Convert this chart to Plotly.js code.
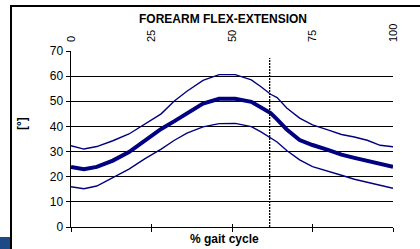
<!DOCTYPE html>
<html>
<head>
<meta charset="utf-8">
<script src="https://cdn.plot.ly/plotly-3.0.1.min.js"></script>
<style>
  html, body { margin: 0; padding: 0; background: #fff; }
  #chart { width: 420px; height: 249px; }
</style>
</head>
<body>
<div id="chart"></div>
<script>
// % gait cycle
var gaitPct = [0, 4, 8, 13, 18, 23, 28, 32, 36, 41, 46, 51, 56, 59, 62, 64, 67, 71, 75, 80, 84, 88, 92, 96, 100];
// mean + SD band (degrees)
var upperSD = [32.3, 31.0, 32.0, 34.3, 37.0, 41.0, 45.0, 50.0, 54.0, 58.3, 60.6, 60.6, 58.5, 55.8, 52.8, 51.5, 47.3, 43.3, 40.6, 38.5, 36.8, 35.8, 34.5, 32.5, 31.9];
var meanVal = [23.9, 23.0, 23.9, 26.4, 29.8, 34.5, 39.0, 42.0, 45.3, 49.1, 51.0, 51.0, 49.8, 47.7, 45.3, 42.8, 38.8, 34.6, 32.6, 30.6, 28.8, 27.5, 26.3, 25.3, 23.9];
var lowerSD = [16.0, 15.2, 16.3, 19.6, 23.0, 27.2, 31.0, 34.4, 37.3, 39.8, 41.1, 41.2, 39.9, 37.8, 35.3, 33.8, 30.4, 26.7, 24.0, 22.2, 20.6, 19.0, 17.7, 16.4, 15.4];
// toe-off marker
var toeOffPct = 61.7;
var toeOffTop = 67.2;
var xTicks = [0, 25, 50, 75, 100];
var xTickText = ['0', '25', '50', '75', '100'];
var yTicks = [0, 10, 20, 30, 40, 50, 60, 70];

var navy = '#000080';
var FONT = '"Liberation Sans", Arial, sans-serif';

var traces = [
  {x: gaitPct, y: upperSD, mode: 'lines', line: {color: navy, width: 1.4}, hoverinfo: 'skip'},
  {x: gaitPct, y: lowerSD, mode: 'lines', line: {color: navy, width: 1.4}, hoverinfo: 'skip'},
  {x: gaitPct, y: meanVal, mode: 'lines', line: {color: navy, width: 4}, hoverinfo: 'skip'},
  {x: [toeOffPct, toeOffPct], y: [0, toeOffTop], mode: 'lines', line: {color: '#000', width: 1.3, dash: '2px,1px'}, hoverinfo: 'skip'},
  // helper traces so the overlay axes are drawn
  {x: [null], y: [null], xaxis: 'x2', yaxis: 'y', mode: 'lines', hoverinfo: 'skip'},
  {x: [null], y: [null], xaxis: 'x3', yaxis: 'y', mode: 'lines', hoverinfo: 'skip'},
  {x: [null], y: [null], xaxis: 'x', yaxis: 'y2', mode: 'lines', hoverinfo: 'skip'}
];

// pixel helpers for paper coords (plot area x:71-393, y:51-227)
function px(x) { return (x - 71) / 322; }
function py(y) { return (227 - y) / 176; }

var layout = {
  width: 420, height: 249,
  margin: {l: 71, r: 27, t: 51, b: 22, pad: 0},
  paper_bgcolor: '#fff', plot_bgcolor: '#fff',
  showlegend: false,
  font: {family: FONT, color: '#000', size: 12},
  xaxis: {
    range: [0, 100], tickvals: xTicks, showticklabels: false,
    ticks: 'outside', ticklen: 4, tickwidth: 1, tickcolor: '#000',
    showline: true, linecolor: '#000', linewidth: 1,
    showgrid: false, zeroline: false, fixedrange: true
  },
  xaxis3: {
    overlaying: 'x', anchor: 'y', range: [0, 100], tickvals: xTicks, showticklabels: false,
    ticks: 'inside', ticklen: 3, tickwidth: 1, tickcolor: '#000',
    showline: false, showgrid: false, zeroline: false
  },
  xaxis2: {
    overlaying: 'x', anchor: 'y', side: 'top', range: [0, 100],
    tickvals: xTicks, ticktext: xTickText, tickangle: -90,
    ticks: '', showline: false, showgrid: false, zeroline: false,
    tickfont: {family: FONT, size: 11, color: '#000'}, ticklabelstandoff: 8
  },
  yaxis: {
    range: [0, 70], tickvals: yTicks,
    ticks: 'outside', ticklen: 4, tickwidth: 1, tickcolor: '#000',
    showline: true, linecolor: '#000', linewidth: 1.5,
    showgrid: true, gridcolor: '#000', gridwidth: 1, zeroline: false,
    tickfont: {family: FONT, size: 12, color: '#000'}, fixedrange: true
  },
  yaxis2: {
    overlaying: 'y', anchor: 'x', range: [0, 70], tickvals: yTicks, showticklabels: false,
    ticks: 'inside', ticklen: 2, tickwidth: 1, tickcolor: '#000',
    showline: false, showgrid: false, zeroline: false
  },
  annotations: [
    {text: '<b>FOREARM FLEX-EXTENSION</b>', xref: 'paper', yref: 'paper', x: px(222.5), y: py(18.7),
     xanchor: 'center', yanchor: 'middle', showarrow: false, font: {family: FONT, size: 12, color: '#000'}},
    {text: '<b>[°]</b>', xref: 'paper', yref: 'paper', x: px(22), y: py(124), textangle: -90,
     xanchor: 'center', yanchor: 'middle', showarrow: false, font: {family: FONT, size: 12, color: '#000'}},
    {text: '<b>% gait cycle</b>', xref: 'paper', yref: 'paper', x: px(224), y: py(239.3),
     xanchor: 'center', yanchor: 'middle', showarrow: false, font: {family: FONT, size: 12, color: '#000'}}
  ],
  shapes: [
    {type: 'line', xref: 'paper', yref: 'paper', x0: px(10), x1: px(421), y0: py(6), y1: py(6), line: {color: '#000', width: 2}},
    {type: 'line', xref: 'paper', yref: 'paper', x0: px(11), x1: px(11), y0: py(5), y1: py(250), line: {color: '#000', width: 2}},
    {type: 'rect', xref: 'paper', yref: 'paper', x0: px(-1), x1: px(10), y0: py(237), y1: py(250), line: {width: 0}, fillcolor: '#1d4a85'}
  ]
};

Plotly.newPlot('chart', traces, layout, {staticPlot: true, displayModeBar: false});
</script>
</body>
</html>
